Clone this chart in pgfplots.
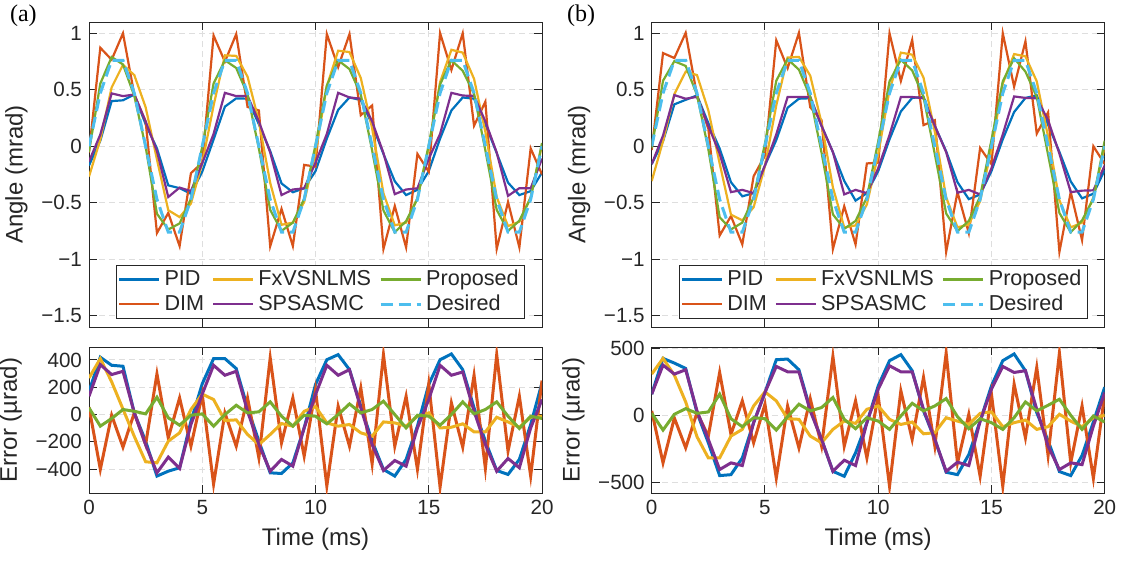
\documentclass[border=0pt]{standalone}
\usepackage{fontspec}
\setmainfont{Liberation Sans}
\newfontfamily\seriffont{Liberation Serif}
\usepackage{pgfplots}
\usepackage{pgfplotstable}
\pgfplotsset{compat=1.18}
\definecolor{cpid}{RGB}{0,114,189}
\definecolor{cdim}{RGB}{217,83,25}
\definecolor{cfx}{RGB}{237,177,32}
\definecolor{csp}{RGB}{126,47,142}
\definecolor{cpr}{RGB}{119,172,48}
\definecolor{cde}{RGB}{77,190,238}
\definecolor{axc}{RGB}{38,38,38}

\pgfplotstableread{
t pid dim fx spsa prop des
0.0 -0.170 -0.055 -0.268 -0.134 -0.049 0
0.5 0.050 0.872 0.060 0.104 0.555 0.470
1.0 0.400 0.766 0.521 0.468 0.790 0.761
1.5 0.407 1.000 0.721 0.444 0.724 0.761
2.0 0.458 0.458 0.630 0.458 0.446 0.470
2.5 0.195 0.220 0.346 0.220 -0.005 0
3.0 -0.019 -0.768 -0.116 -0.043 -0.597 -0.470
3.5 -0.346 -0.590 -0.566 -0.449 -0.737 -0.761
4.0 -0.371 -0.883 -0.627 -0.366 -0.683 -0.761
4.5 -0.421 -0.238 -0.507 -0.397 -0.465 -0.470
5.0 -0.225 -0.146 -0.150 -0.150 -0.005 0
5.5 0.060 0.980 0.360 0.109 0.555 0.470
6.0 0.351 0.749 0.805 0.473 0.761 0.761
6.5 0.424 0.993 0.800 0.444 0.693 0.761
7.0 0.421 0.348 0.616 0.446 0.458 0.470
7.5 0.195 0.317 0.220 0.220 -0.020 0
8.0 -0.043 -0.885 -0.324 -0.055 -0.563 -0.470
8.5 -0.329 -0.554 -0.695 -0.432 -0.749 -0.761
9.0 -0.407 -0.883 -0.676 -0.383 -0.676 -0.761
9.5 -0.372 -0.165 -0.494 -0.372 -0.465 -0.470
10.0 -0.220 -0.180 -0.058 -0.146 0.012 0
10.5 0.068 0.994 0.531 0.109 0.538 0.470
11.0 0.322 0.700 0.846 0.473 0.761 0.761
11.5 0.432 0.993 0.834 0.432 0.683 0.761
12.0 0.409 0.275 0.604 0.421 0.458 0.470
12.5 0.195 0.361 0.159 0.220 -0.037 0
13.0 -0.068 -0.909 -0.416 -0.060 -0.568 -0.470
13.5 -0.310 -0.529 -0.700 -0.424 -0.761 -0.761
14.0 -0.432 -0.895 -0.676 -0.383 -0.663 -0.761
14.5 -0.385 -0.068 -0.458 -0.372 -0.465 -0.470
15.0 -0.220 -0.225 -0.012 -0.110 0.012 0
15.5 0.068 1.002 0.568 0.109 0.548 0.470
16.0 0.317 0.676 0.854 0.473 0.761 0.761
16.5 0.432 1.000 0.829 0.449 0.668 0.761
17.0 0.421 0.182 0.597 0.446 0.465 0.470
17.5 0.195 0.395 0.127 0.220 -0.037 0
18.0 -0.060 -0.909 -0.450 -0.055 -0.563 -0.470
18.5 -0.322 -0.493 -0.707 -0.439 -0.749 -0.761
19.0 -0.432 -0.895 -0.668 -0.371 -0.659 -0.761
19.5 -0.397 -0.019 -0.450 -0.372 -0.458 -0.470
20.0 -0.232 -0.249 0.012 -0.110 0.029 0
}\topa

\pgfplotstableread{
t pid dim fx spsa prop
0.0 170 55 268 134 49
0.5 420 -402 410 366 -85
1.0 361 -5 240 293 -29
1.5 354 -239 40 317 37
2.0 12 12 -160 12 24
2.5 -195 -220 -346 -220 5
3.0 -451 298 -354 -427 127
3.5 -415 -171 -195 -312 -24
4.0 -390 122 -134 -395 -78
4.5 -49 -232 37 -73 -5
5.0 225 146 150 150 5
5.5 410 -510 110 361 -85
6.0 410 12 -44 288 0
6.5 337 -232 -39 317 68
7.0 49 122 -146 24 12
7.5 -195 -317 -220 -220 20
8.0 -427 415 -146 -415 93
8.5 -432 -207 -66 -329 -12
9.0 -354 122 -85 -378 -85
9.5 -98 -305 24 -98 -5
10.0 220 180 58 146 -12
10.5 402 -524 -61 361 -68
11.0 439 61 -85 288 0
11.5 329 -232 -73 329 78
12.0 61 195 -134 49 12
12.5 -195 -361 -159 -220 37
13.0 -402 439 -54 -410 98
13.5 -451 -232 -61 -337 0
14.0 -329 134 -85 -378 -98
14.5 -85 -402 -12 -98 -5
15.0 220 225 12 110 -12
15.5 402 -532 -98 361 -78
16.0 444 85 -93 288 0
16.5 329 -239 -68 312 93
17.0 49 288 -127 24 5
17.5 -195 -395 -127 -220 37
18.0 -410 439 -20 -415 93
18.5 -439 -268 -54 -322 -12
19.0 -329 134 -93 -390 -102
19.5 -73 -451 -20 -98 -12
20.0 232 249 -12 110 -29
}\erra

\pgfplotstableread{
t pid dim fx spsa prop des
0.0 -0.158 -0.033 -0.308 -0.158 -0.015 0
0.5 0.045 0.825 0.045 0.095 0.580 0.470
1.0 0.371 0.781 0.461 0.453 0.753 0.761
1.5 0.411 1.004 0.661 0.421 0.711 0.761
2.0 0.450 0.450 0.630 0.437 0.455 0.470
2.5 0.205 0.155 0.318 0.180 -0.025 0
3.0 -0.020 -0.790 -0.152 -0.065 -0.628 -0.470
3.5 -0.318 -0.618 -0.606 -0.406 -0.736 -0.761
4.0 -0.443 -0.869 -0.656 -0.386 -0.676 -0.761
4.5 -0.415 -0.265 -0.540 -0.415 -0.452 -0.470
5.0 -0.170 -0.083 -0.175 -0.170 0.025 0
5.5 0.055 0.938 0.362 0.105 0.580 0.470
6.0 0.341 0.691 0.786 0.436 0.771 0.761
6.5 0.421 1.004 0.791 0.436 0.678 0.761
7.0 0.425 0.345 0.625 0.437 0.437 0.470
7.5 0.180 0.230 0.205 0.180 -0.058 0
8.0 -0.052 -0.910 -0.365 -0.052 -0.603 -0.470
8.5 -0.306 -0.531 -0.718 -0.426 -0.731 -0.761
9.0 -0.481 -0.869 -0.701 -0.386 -0.661 -0.761
9.5 -0.415 -0.152 -0.515 -0.415 -0.452 -0.470
10.0 -0.220 -0.145 -0.070 -0.195 0.043 0
10.5 0.062 1.000 0.500 0.100 0.575 0.470
11.0 0.308 0.578 0.829 0.436 0.766 0.761
11.5 0.428 0.941 0.811 0.436 0.671 0.761
12.0 0.437 0.187 0.608 0.425 0.437 0.470
12.5 0.180 0.230 0.130 0.180 -0.070 0
13.0 -0.045 -0.935 -0.452 -0.052 -0.595 -0.470
13.5 -0.318 -0.406 -0.718 -0.411 -0.751 -0.761
14.0 -0.468 -0.769 -0.693 -0.386 -0.661 -0.761
14.5 -0.427 -0.015 -0.485 -0.427 -0.445 -0.470
15.0 -0.220 -0.158 -0.025 -0.195 0.055 0
15.5 0.062 1.000 0.555 0.105 0.575 0.470
16.0 0.303 0.528 0.816 0.441 0.779 0.761
16.5 0.428 0.929 0.796 0.428 0.661 0.761
17.0 0.450 0.112 0.575 0.425 0.437 0.470
17.5 0.190 0.300 0.085 0.230 -0.075 0
18.0 -0.050 -0.935 -0.478 -0.065 -0.590 -0.470
18.5 -0.311 -0.406 -0.718 -0.406 -0.761 -0.761
19.0 -0.461 -0.831 -0.676 -0.393 -0.656 -0.761
19.5 -0.420 0.000 -0.452 -0.390 -0.465 -0.470
20.0 -0.210 -0.158 0.000 -0.170 0.050 0
}\topb

\pgfplotstableread{
t pid dim fx spsa prop
0.0 158 33 308 158 15
0.5 425 -355 425 375 -110
1.0 390 -20 300 308 8
1.5 350 -243 100 340 50
2.0 20 20 -160 33 15
2.5 -205 -155 -318 -180 25
3.0 -450 320 -318 -405 158
3.5 -443 -143 -155 -355 -25
4.0 -318 108 -105 -375 -85
4.5 -55 -205 70 -55 -18
5.0 170 83 175 170 -25
5.5 415 -468 108 365 -110
6.0 420 70 -25 325 -10
6.5 340 -243 -30 325 83
7.0 45 125 -155 33 33
7.5 -180 -230 -205 -180 58
8.0 -418 440 -105 -418 133
8.5 -455 -230 -43 -335 -30
9.0 -280 108 -60 -375 -100
9.5 -55 -318 45 -55 -18
10.0 220 145 70 195 -43
10.5 408 -530 -30 370 -105
11.0 453 183 -68 325 -5
11.5 333 -180 -50 325 90
12.0 33 283 -138 45 33
12.5 -180 -230 -130 -180 70
13.0 -425 465 -18 -418 125
13.5 -443 -355 -43 -350 -10
14.0 -293 8 -68 -375 -100
14.5 -43 -455 15 -43 -25
15.0 220 158 25 195 -55
15.5 408 -530 -85 365 -105
16.0 458 233 -55 320 -18
16.5 333 -168 -35 333 100
17.0 20 358 -105 45 33
17.5 -190 -300 -85 -230 75
18.0 -420 465 8 -405 120
18.5 -450 -355 -43 -355 0
19.0 -300 70 -85 -368 -105
19.5 -50 -470 -18 -80 -5
20.0 210 158 0 170 -50
}\errb

\pgfplotsset{
  base/.style={
    scale only axis, width=226.5pt,
    xmin=0, xmax=20, xtick={0,5,10,15,20},
    grid=major,
    major grid style={dash pattern=on 3pt off 2pt, color=black!13, line width=0.5pt},
    axis line style={color=axc, line width=0.5pt},
    tick style={color=axc, line width=0.5pt},
    tick align=inside, major tick length=4pt,
    ticklabel style={font=\fontsize{10.3}{12}\selectfont, color=axc},
    label style={font=\fontsize{12}{14}\selectfont, color=axc},
    /pgf/number format/assume math mode=true,
    clip=true,
  },
  topax/.style={base, height=152.5pt, ymin=-1.6, ymax=1.1,
    ytick={-1.5,-1,-0.5,0,0.5,1},
    yticklabels={−1.5,−1,−0.5,0,0.5,1},
    xticklabels={},
    ylabel={Angle (mrad)},
    legend columns=2, transpose legend,
    legend cell align=left,
    legend style={at={(0.511,0.026)}, anchor=south, draw=axc, line width=0.5pt,
      fill=white, font=\fontsize{10.8}{12}\selectfont, text=axc,
      inner xsep=1pt, inner ysep=0.5pt, row sep=-1pt,
      /tikz/every even column/.append style={column sep=2pt}},
    legend image code/.code={\draw[##1] (0pt,0pt) -- (20pt,0pt);},
  },
  errax/.style={base, height=73pt,
    xticklabels={0,5,10,15,20},
    xlabel={Time (ms)}, ylabel={Error (µrad)},
  },
  l/.style={line width=1.1pt},
  le/.style={line width=1.5pt},
}

\begin{document}
\begin{tikzpicture}
\path[use as bounding box] (0,0) rectangle (561.5pt,282pt);
\node[anchor=west, font=\seriffont\fontsize{12}{14}\selectfont] at (1.5pt,274pt) {(a)};
\node[anchor=west, font=\seriffont\fontsize{12}{14}\selectfont] at (280pt,274pt) {(b)};

\begin{axis}[topax, at={(44.5pt,118.5pt)}, anchor=south west]
\addplot[l, cpid] table[x=t,y=pid] {\topa}; \addlegendentry{PID}
\addplot[l, cdim] table[x=t,y=dim] {\topa}; \addlegendentry{DIM}
\addplot[l, cfx] table[x=t,y=fx] {\topa}; \addlegendentry{FxVSNLMS}
\addplot[l, csp] table[x=t,y=spsa] {\topa}; \addlegendentry{SPSASMC}
\addplot[l, cpr] table[x=t,y=prop] {\topa}; \addlegendentry{Proposed}
\addplot[line width=1.5pt, cde, dash pattern=on 6pt off 3pt] table[x=t,y=des] {\topa}; \addlegendentry{Desired}
\end{axis}

\begin{axis}[errax, at={(44.5pt,35.5pt)}, anchor=south west, ymin=-575, ymax=495,
  ytick={-400,-200,0,200,400}, yticklabels={−400,−200,0,200,400}]
\addplot[le, cpid] table[x=t,y=pid] {\erra};
\addplot[le, cdim] table[x=t,y=dim] {\erra};
\addplot[le, cfx] table[x=t,y=fx] {\erra};
\addplot[le, csp] table[x=t,y=spsa] {\erra};
\addplot[le, cpr] table[x=t,y=prop] {\erra};
\end{axis}

\begin{axis}[topax, at={(325.85pt,118.5pt)}, anchor=south west]
\addplot[l, cpid] table[x=t,y=pid] {\topb}; \addlegendentry{PID}
\addplot[l, cdim] table[x=t,y=dim] {\topb}; \addlegendentry{DIM}
\addplot[l, cfx] table[x=t,y=fx] {\topb}; \addlegendentry{FxVSNLMS}
\addplot[l, csp] table[x=t,y=spsa] {\topb}; \addlegendentry{SPSASMC}
\addplot[l, cpr] table[x=t,y=prop] {\topb}; \addlegendentry{Proposed}
\addplot[line width=1.5pt, cde, dash pattern=on 6pt off 3pt] table[x=t,y=des] {\topb}; \addlegendentry{Desired}
\end{axis}

\begin{axis}[errax, at={(325.85pt,35.5pt)}, anchor=south west, ymin=-580, ymax=510,
  ytick={-500,0,500}, yticklabels={−500,0,500}]
\addplot[le, cpid] table[x=t,y=pid] {\errb};
\addplot[le, cdim] table[x=t,y=dim] {\errb};
\addplot[le, cfx] table[x=t,y=fx] {\errb};
\addplot[le, csp] table[x=t,y=spsa] {\errb};
\addplot[le, cpr] table[x=t,y=prop] {\errb};
\end{axis}
\end{tikzpicture}
\end{document}
